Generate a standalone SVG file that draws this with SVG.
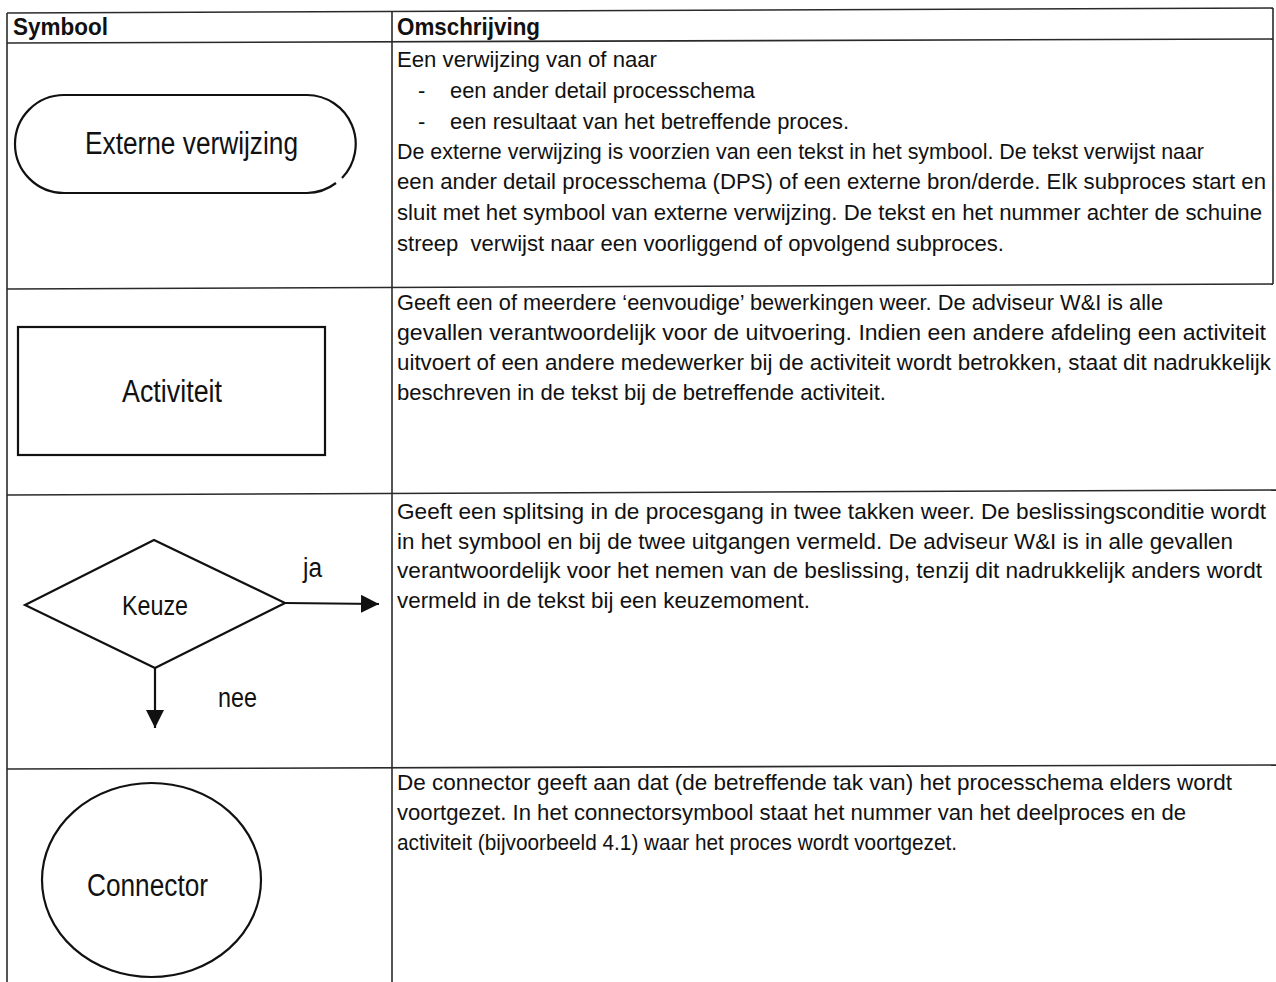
<svg xmlns="http://www.w3.org/2000/svg" width="1276" height="982" viewBox="0 0 1276 982">
  <style>
    .grid { stroke: #2a2a2a; stroke-width: 1.6; fill: none; }
    .shape { fill: none; stroke: #111; stroke-width: 2.2; }
    .flow { stroke: #111; stroke-width: 2.2; fill: none; }
    text { font-family: "Liberation Sans", Arial, sans-serif; fill: #111; }
    .hdr { font-size: 24px; font-weight: bold; }
    .body { font-size: 22px; }
    .lbl { font-size: 31px; }
    .small { font-size: 27px; }
  </style>
  <defs>
    <marker id="arrow" markerUnits="userSpaceOnUse" markerWidth="19" markerHeight="19" refX="18" refY="9" orient="auto">
      <path d="M0,0 L18,9 L0,18 Z" fill="#111"/>
    </marker>
  </defs>
  <rect width="1276" height="982" fill="#fff"/>

  <!-- table grid -->
  <g id="table">
    <line class="grid" x1="7" y1="13" x2="1273" y2="8"/>
    <line class="grid" x1="7" y1="43" x2="1273" y2="39"/>
    <line class="grid" x1="7" y1="289" x2="1273" y2="284"/>
    <line class="grid" x1="7" y1="495" x2="1276" y2="490"/>
    <line class="grid" x1="7" y1="769" x2="1276" y2="765"/>
    <line class="grid" x1="7" y1="13" x2="7" y2="982"/>
    <line class="grid" x1="392" y1="12" x2="392" y2="982"/>
    <line class="grid" x1="1273" y1="8" x2="1273" y2="284"/>
    <text class="hdr" x="13" y="35" textLength="95" lengthAdjust="spacingAndGlyphs">Symbool</text>
    <text class="hdr" x="397" y="35" textLength="143" lengthAdjust="spacingAndGlyphs">Omschrijving</text>
  </g>

  <!-- external reference symbol -->
  <g id="externe-verwijzing">
    <path class="shape" d="M336,183 A49,49 0 0 1 307,193 L64,193 A49,49 0 0 1 64,95 L307,95 A49,49 0 0 1 342,178"/>
    <text class="lbl" x="85" y="154" textLength="213" lengthAdjust="spacingAndGlyphs">Externe verwijzing</text>
  </g>
  <g id="externe-verwijzing-tekst" class="body">
    <text x="397" y="67" textLength="260" lengthAdjust="spacingAndGlyphs">Een verwijzing van of naar</text>
    <text x="418" y="98">-</text>
    <text x="450" y="98" textLength="305" lengthAdjust="spacingAndGlyphs">een ander detail processchema</text>
    <text x="418" y="129">-</text>
    <text x="450" y="129" textLength="399" lengthAdjust="spacingAndGlyphs">een resultaat van het betreffende proces.</text>
    <text x="397" y="159" textLength="807" lengthAdjust="spacingAndGlyphs">De externe verwijzing is voorzien van een tekst in het symbool. De tekst verwijst naar</text>
    <text x="397" y="189" textLength="869" lengthAdjust="spacingAndGlyphs">een ander detail processchema (DPS) of een externe bron/derde. Elk subproces start en</text>
    <text x="397" y="220" textLength="865" lengthAdjust="spacingAndGlyphs">sluit met het symbool van externe verwijzing. De tekst en het nummer achter de schuine</text>
    <text x="397" y="251" textLength="607" lengthAdjust="spacingAndGlyphs">streep&#160; verwijst naar een voorliggend of opvolgend subproces.</text>
  </g>

  <!-- activity symbol -->
  <g id="activiteit">
    <rect class="shape" x="18" y="327" width="307" height="128"/>
    <text class="lbl" x="122" y="402" textLength="100" lengthAdjust="spacingAndGlyphs">Activiteit</text>
  </g>
  <g id="activiteit-tekst" class="body">
    <text x="397" y="310" textLength="766" lengthAdjust="spacingAndGlyphs">Geeft een of meerdere ‘eenvoudige’ bewerkingen weer. De adviseur W&amp;I is alle</text>
    <text x="397" y="340" textLength="869" lengthAdjust="spacingAndGlyphs">gevallen verantwoordelijk voor de uitvoering. Indien een andere afdeling een activiteit</text>
    <text x="397" y="370" textLength="874" lengthAdjust="spacingAndGlyphs">uitvoert of een andere medewerker bij de activiteit wordt betrokken, staat dit nadrukkelijk</text>
    <text x="397" y="400" textLength="489" lengthAdjust="spacingAndGlyphs">beschreven in de tekst bij de betreffende activiteit.</text>
  </g>

  <!-- decision symbol -->
  <g id="keuze">
    <polygon class="shape" points="25,605 154,540 285,603 155,668"/>
    <text class="small" x="122" y="615" textLength="66" lengthAdjust="spacingAndGlyphs">Keuze</text>
  </g>
  <g id="connectors">
    <line class="flow" x1="285" y1="603" x2="379" y2="604" marker-end="url(#arrow)"/>
    <line class="flow" x1="155" y1="668" x2="155" y2="728" marker-end="url(#arrow)"/>
    <text class="small" x="303" y="577" textLength="19" lengthAdjust="spacingAndGlyphs">ja</text>
    <text class="small" x="218" y="707" textLength="39" lengthAdjust="spacingAndGlyphs">nee</text>
  </g>
  <g id="keuze-tekst" class="body">
    <text x="397" y="519" textLength="869" lengthAdjust="spacingAndGlyphs">Geeft een splitsing in de procesgang in twee takken weer. De beslissingsconditie wordt</text>
    <text x="397" y="549" textLength="836" lengthAdjust="spacingAndGlyphs">in het symbool en bij de twee uitgangen vermeld. De adviseur W&amp;I is in alle gevallen</text>
    <text x="397" y="578" textLength="865" lengthAdjust="spacingAndGlyphs">verantwoordelijk voor het nemen van de beslissing, tenzij dit nadrukkelijk anders wordt</text>
    <text x="397" y="608" textLength="413" lengthAdjust="spacingAndGlyphs">vermeld in de tekst bij een keuzemoment.</text>
  </g>

  <!-- connector symbol -->
  <g id="connector">
    <ellipse class="shape" cx="151.5" cy="880" rx="109.5" ry="97"/>
    <text class="lbl" x="87" y="896" textLength="121" lengthAdjust="spacingAndGlyphs">Connector</text>
  </g>
  <g id="connector-tekst" class="body">
    <text x="397" y="790" textLength="835" lengthAdjust="spacingAndGlyphs">De connector geeft aan dat (de betreffende tak van) het processchema elders wordt</text>
    <text x="397" y="820" textLength="789" lengthAdjust="spacingAndGlyphs">voortgezet. In het connectorsymbool staat het nummer van het deelproces en de</text>
    <text x="397" y="850" textLength="560" lengthAdjust="spacingAndGlyphs">activiteit (bijvoorbeeld 4.1) waar het proces wordt voortgezet.</text>
  </g>
</svg>
